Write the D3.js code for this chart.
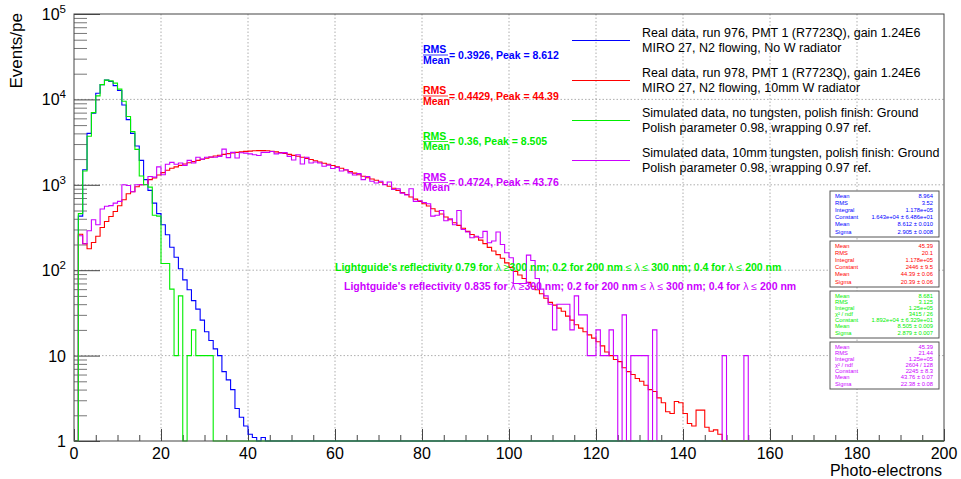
<!DOCTYPE html>
<html>
<head>
<meta charset="utf-8">
<script src="https://cdn.jsdelivr.net/npm/d3@7"></script>
<style>
  body { margin: 0; background: #fff; }
  text { font-family: "Liberation Sans", Arial, Helvetica, sans-serif; }
</style>
</head>
<body>
<svg id="chart" width="961" height="479"></svg>
<script>
// bin contents, one bin per photo-electron starting at 0
var run976 = [0, 430, 1500, 4000, 6900, 11800, 14900, 16800, 16200, 14500, 12700, 8600, 5800, 4000, 2850, 1930,
    1150, 860, 610, 460, 340, 260, 186, 142, 104, 77, 59, 44, 35, 26, 19, 15, 12, 10, 6.5, 5.2, 4, 2.4, 1.9, 1.5,
    1.2, 1.1, 0, 1.1];
var run978 = [0, 264, 205, 178, 211, 250, 316, 372, 425, 487, 568, 667, 785, 830, 950, 1000, 1010, 1150, 1200, 1300,
    1390, 1480, 1560, 1620, 1690, 1750, 1810, 1870, 1930, 1990, 2050, 2110, 2170, 2220, 2270, 2320, 2360, 2400, 2430, 2460,
    2480, 2500, 2510, 2510, 2500, 2470, 2430, 2390, 2330, 2270, 2210, 2160, 2100, 2040, 1980, 1910, 1850, 1790, 1740, 1680,
    1630, 1560, 1490, 1430, 1370, 1310, 1260, 1210, 1170, 1130, 1070, 1010, 960, 910, 860, 810, 770, 720, 680, 640,
    600, 565, 525, 490, 455, 420, 390, 360, 335, 310, 285, 262, 245, 225, 205, 185, 168, 152, 138, 122,
    108, 97, 88, 80, 72, 65, 59, 53, 47, 42, 39, 36, 33, 29, 26, 23, 21, 19, 17.5, 16,
    14.5, 13, 11, 10, 9, 8.5, 7.2, 6.5, 6, 5.4, 5, 4.5, 4, 3.8, 3.2, 2.8, 2.2, 2.1, 2.9, 2.8,
    2.1, 1.6, 1.5, 2.3, 2.3, 1.45, 1.3, 1.35, 1.2];
var simNoW = [0, 460, 1450, 3700, 7000, 11000, 14900, 16800, 16500, 15500, 13200, 9500, 6300, 4200, 2600, 1270,
    1000, 940, 440, 430, 120, 120, 60, 10, 50, 0, 10, 20, 10, 10, 10, 10];
var sim10mmW = [0, 253, 204, 290, 390, 340, 520, 560, 570, 610, 640, 1000, 980, 830, 1000, 1000, 1010, 1250, 1230, 1620,
    1310, 1740, 1830, 1740, 1800, 1690, 1930, 1800, 2100, 2000, 2100, 2120, 2100, 2150, 2620, 2080, 2400, 2060, 2370, 2350,
    2300, 2250, 2200, 2400, 2400, 2450, 2300, 2350, 2380, 2150, 1950, 2250, 1750, 2100, 1800, 1850, 1800, 1650, 1700, 1550,
    1600, 1450, 1500, 1380, 1300, 1350, 1150, 1250, 1100, 1050, 1100, 1000, 1080, 880, 900, 800, 760, 900, 640, 650,
    620, 600, 430, 440, 500, 380, 400, 340, 500, 300, 280, 240, 250, 240, 285, 210, 220, 280, 200, 160,
    140, 70, 70, 70, 150, 130, 80, 60, 50, 40, 20, 40, 40, 40, 20, 50, 30, 30, 10, 10,
    20, 10, 10, 20, 10, 0, 30, 0, 10, 10, 10, 10, 0, 20, 0, 0, 0, 0, 0, 0,
    0, 0, 0, 0, 0, 0, 0, 0, 0, 10, 0, 0, 0, 0, 10];

var seriesColors = ["#0000ff", "#ff0000", "#00ee00", "#cc00ff"];
var legendLines = [
    ["Real data, run 976, PMT 1 (R7723Q), gain 1.24E6", "MIRO 27, N2 flowing, No W radiator"],
    ["Real data, run 978, PMT 1 (R7723Q), gain 1.24E6", "MIRO 27, N2 flowing, 10mm W radiator"],
    ["Simulated data, no tungsten, polish finish: Ground", "Polish parameter 0.98, wrapping 0.97 ref."],
    ["Simulated data, 10mm tungsten, polish finish: Ground", "Polish parameter 0.98, wrapping 0.97 ref."]
];
var rmsOverMean = ["0.3926", "0.4429", "0.36", "0.4724"];
var peaks = ["8.612", "44.39", "8.505", "43.76"];

var statLabels = [
    ["Mean", "RMS", "Integral", "Constant", "Mean", "Sigma"],
    ["Mean", "RMS", "Integral", "Constant", "Mean", "Sigma"],
    ["Mean", "RMS", "Integral", "\u03c7\u00b2 / ndf", "Constant", "Mean", "Sigma"],
    ["Mean", "RMS", "Integral", "\u03c7\u00b2 / ndf", "Constant", "Mean", "Sigma"]
];
var statValues = [
    ["8.964", "3.52", "1.178e+05", "1.643e+04 \u00b1 6.486e+01", "8.612 \u00b1 0.010", "2.905 \u00b1 0.008"],
    ["45.39", "20.1", "1.178e+05", "2446 \u00b1 9.5", "44.39 \u00b1 0.06", "20.39 \u00b1 0.06"],
    ["8.681", "3.125", "1.25e+05", "3415 / 26", "1.892e+04 \u00b1 6.329e+01", "8.505 \u00b1 0.009", "2.879 \u00b1 0.007"],
    ["45.39", "21.44", "1.25e+05", "2604 / 128", "2245 \u00b1 8.3", "43.76 \u00b1 0.07", "22.38 \u00b1 0.08"]
];

var xTicks = [0, 20, 40, 60, 80, 100, 120, 140, 160, 180, 200];
var yTicks = [1, 10, 100, 1000, 10000, 100000];

var svg = d3.select("#chart");
var x = d3.scaleLinear().domain([0, 200]).range([74, 944]);
var y = d3.scaleLog().domain([1, 1e5]).range([441, 14]);

// grid
svg.append("g").selectAll("line")
    .data(xTicks.slice(1, -1))
    .join("line")
    .attr("x1", d => x(d)).attr("x2", d => x(d))
    .attr("y1", y(1e5)).attr("y2", y(1))
    .attr("stroke", "#999").attr("stroke-width", 0.8)
    .attr("stroke-dasharray", "1.5,2");
svg.append("g").selectAll("line")
    .data(yTicks.slice(1, -1))
    .join("line")
    .attr("x1", x(0)).attr("x2", x(200))
    .attr("y1", d => y(d)).attr("y2", d => y(d))
    .attr("stroke", "#999").attr("stroke-width", 0.8)
    .attr("stroke-dasharray", "1.5,2");

// axes drawn in ROOT style (ticks pointing into the frame)
var xAxis = d3.axisTop(x).tickValues(d3.range(0, 201, 5)).tickSize(6).tickFormat("");
svg.append("g").attr("transform", "translate(0," + y(1) + ")").call(xAxis)
    .call(g => g.select(".domain").remove())
    .call(g => g.selectAll(".tick line").attr("stroke", "#444")
        .attr("y2", d => d % 20 == 0 ? -12 : -6));

var minorY = [];
for (var e = 0; e < 5; e++) {
    for (var m = 1; m < 10; m++) minorY.push(m * Math.pow(10, e));
}
minorY.push(1e5);
var yAxis = d3.axisRight(y).tickValues(minorY).tickSize(13).tickFormat("");
svg.append("g").attr("transform", "translate(" + x(0) + ",0)").call(yAxis)
    .call(g => g.select(".domain").remove())
    .call(g => g.selectAll(".tick line").attr("stroke", d => yTicks.indexOf(d) >= 0 ? "#444" : "#777")
        .attr("x2", d => yTicks.indexOf(d) >= 0 ? 26 : 13));

svg.append("g").selectAll("text")
    .data(xTicks)
    .join("text")
    .attr("x", d => x(d)).attr("y", 459)
    .attr("text-anchor", "middle").attr("font-size", 16)
    .text(d => d);

var yLab = svg.append("g").selectAll("text")
    .data(yTicks)
    .join("text")
    .attr("x", 66).attr("y", d => y(d) + 6)
    .attr("text-anchor", "end").attr("font-size", 16);
yLab.filter(d => d < 100).text(d => d);
yLab.filter(d => d >= 100).each(function(d) {
    var t = d3.select(this);
    t.append("tspan").text("10");
    t.append("tspan").attr("dy", -7).attr("font-size", 11.5).text(Math.round(Math.log10(d)));
});

svg.append("text")
    .attr("x", 942).attr("y", 476)
    .attr("text-anchor", "end").attr("font-size", 16)
    .text("Photo-electrons");
svg.append("text")
    .attr("transform", "translate(22,13) rotate(-90)")
    .attr("text-anchor", "end").attr("font-size", 17)
    .text("Events/pe");

// histograms
function stepPoints(arr) {
    var pts = [];
    for (var i = 0; i < 200; i++) pts.push([i, arr[i] || 0]);
    pts.push([200, 0]);
    return pts;
}
var stepLine = d3.line()
    .x(d => x(d[0]))
    .y(d => y(Math.max(d[1], 1)))
    .curve(d3.curveStepAfter);

var hists = [run976, run978, sim10mmW, simNoW];
var histColors = [seriesColors[0], seriesColors[1], seriesColors[3], seriesColors[2]];
svg.append("g").selectAll("path")
    .data(hists)
    .join("path")
    .attr("d", d => stepLine(stepPoints(d)))
    .attr("fill", "none")
    .attr("stroke", (d, i) => histColors[i])
    .attr("stroke-width", 1.1);

// frame
svg.append("rect")
    .attr("x", x(0)).attr("y", y(1e5))
    .attr("width", x(200) - x(0)).attr("height", y(1) - y(1e5))
    .attr("fill", "none").attr("stroke", "#444").attr("stroke-width", 1);

// legend
var legY = [40.5, 80.5, 120.5, 160.5];
var leg = svg.append("g");
legendLines.forEach(function(lines, i) {
    leg.append("line")
        .attr("x1", 572).attr("x2", 630)
        .attr("y1", legY[i]).attr("y2", legY[i])
        .attr("stroke", seriesColors[i]).attr("stroke-width", 1.1);
    leg.append("text").attr("x", 642).attr("y", legY[i] - 4).attr("font-size", 12.5).text(lines[0]);
    leg.append("text").attr("x", 642).attr("y", legY[i] + 11.5).attr("font-size", 12.5).text(lines[1]);
});

// RMS / Mean annotations
var fracY = [55, 96, 141.5, 182.5];
rmsOverMean.forEach(function(r, i) {
    var g = svg.append("g").attr("fill", seriesColors[i]).attr("font-weight", "bold").attr("font-size", 10.5);
    g.append("text").attr("x", 423).attr("y", fracY[i] - 2).text("RMS");
    g.append("line").attr("x1", 423).attr("x2", 448)
        .attr("y1", fracY[i]).attr("y2", fracY[i])
        .attr("stroke", seriesColors[i]).attr("stroke-width", 0.8);
    g.append("text").attr("x", 423).attr("y", fracY[i] + 8.5).text("Mean");
    g.append("text").attr("x", 449).attr("y", fracY[i] + 3.5)
        .text(" = " + r + ", Peak = " + peaks[i]);
});

// reflectivity notes
var notes = [["0.79", 335, 271, seriesColors[2]], ["0.835", 344, 290, seriesColors[3]]];
notes.forEach(function(n) {
    var t = svg.append("text").attr("x", n[1]).attr("y", n[2])
        .attr("fill", n[3]).attr("font-weight", "bold").attr("font-size", 10.5);
    t.append("tspan").text("Lightguide's reflectivity " + n[0] + " for ");
    t.append("tspan").attr("font-weight", "normal").text(" \u03bb \u2265");
    t.append("tspan").text("300 nm; 0.2 for 200 nm ");
    t.append("tspan").attr("font-weight", "normal").text("\u2264 \u03bb \u2264");
    t.append("tspan").text(" 300 nm; 0.4 for ");
    t.append("tspan").attr("font-weight", "normal").text(" \u03bb \u2264");
    t.append("tspan").text(" 200 nm");
});

// stat boxes
var boxTop = [191, 241, 291, 342];
var boxBottom = [237, 287, 338, 389];
statLabels.forEach(function(labels, i) {
    var g = svg.append("g").attr("font-size", 5.8).attr("fill", seriesColors[i]);
    g.append("rect")
        .attr("x", 830).attr("y", boxTop[i])
        .attr("width", 109).attr("height", boxBottom[i] - boxTop[i])
        .attr("fill", "#fff").attr("stroke", "#555").attr("stroke-width", 1);
    var first = boxTop[i] + 4.5, last = boxBottom[i] - 5.5;
    var step = (last - first) / (labels.length - 1);
    labels.forEach(function(l, j) {
        var ty = first + step * j + 2;
        g.append("text").attr("x", 835).attr("y", ty).text(l);
        g.append("text").attr("x", 933).attr("y", ty).attr("text-anchor", "end").text(statValues[i][j]);
    });
});
</script>
</body>
</html>
